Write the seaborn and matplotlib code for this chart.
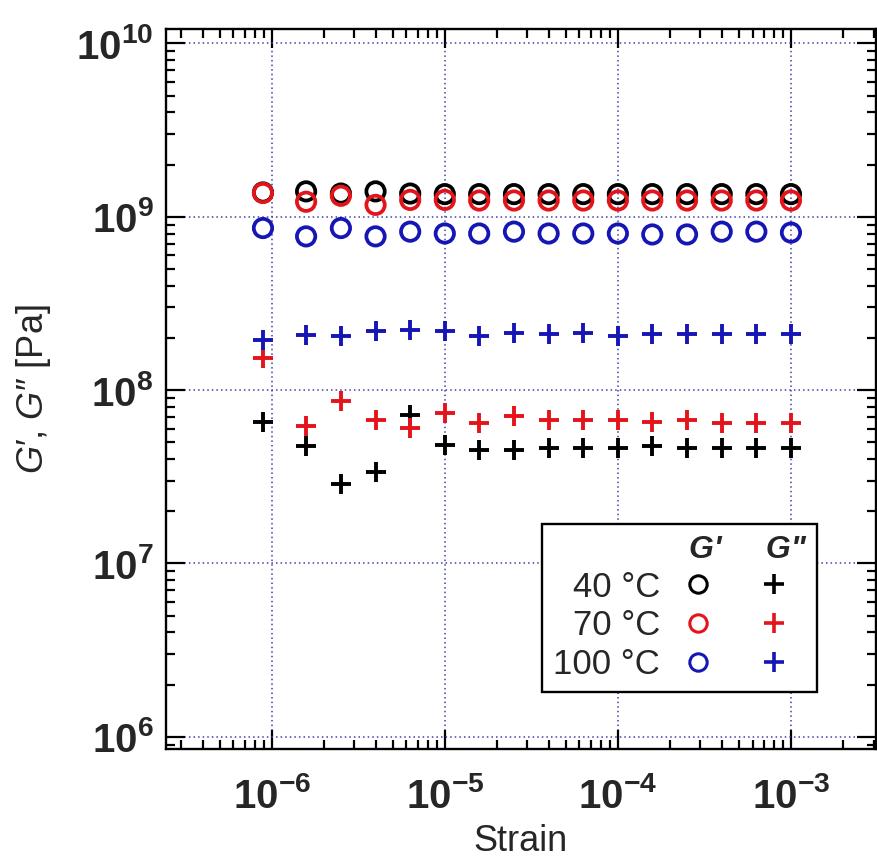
import numpy as np
import pandas as pd
import matplotlib
matplotlib.use("Agg")
import matplotlib.pyplot as plt
import seaborn as sns
from matplotlib.lines import Line2D
from matplotlib.legend_handler import HandlerTuple
from matplotlib.ticker import LogLocator, FuncFormatter, NullFormatter

# ---------------- data ----------------
strain = [8.9e-7, 1.58e-6, 2.51e-6, 3.98e-6, 6.31e-6, 1.0e-5, 1.58e-5, 2.51e-5,
          3.98e-5, 6.31e-5, 1.0e-4, 1.58e-4, 2.51e-4, 3.98e-4, 6.31e-4, 1.0e-3]

gp_40 = [1.38e9, 1.40e9, 1.36e9, 1.40e9, 1.36e9, 1.35e9, 1.35e9, 1.35e9,
         1.35e9, 1.35e9, 1.35e9, 1.35e9, 1.35e9, 1.35e9, 1.35e9, 1.35e9]
gp_70 = [1.37e9, 1.22e9, 1.32e9, 1.17e9, 1.25e9, 1.25e9, 1.24e9, 1.24e9,
         1.24e9, 1.24e9, 1.24e9, 1.24e9, 1.24e9, 1.24e9, 1.24e9, 1.24e9]
gp_100 = [8.6e8, 7.7e8, 8.6e8, 7.7e8, 8.2e8, 8.0e8, 8.0e8, 8.2e8,
          8.0e8, 8.0e8, 8.0e8, 7.9e8, 7.9e8, 8.2e8, 8.2e8, 8.1e8]

gpp_40 = [6.5e7, 4.73e7, 2.88e7, 3.35e7, 7.2e7, 4.84e7, 4.53e7, 4.5e7,
          4.64e7, 4.64e7, 4.64e7, 4.78e7, 4.64e7, 4.64e7, 4.64e7, 4.64e7]
gpp_70 = [1.53e8, 6.17e7, 8.6e7, 6.74e7, 6.04e7, 7.36e7, 6.45e7, 7.05e7,
          6.74e7, 6.74e7, 6.74e7, 6.5e7, 6.7e7, 6.45e7, 6.45e7, 6.45e7]
gpp_100 = [1.95e8, 2.08e8, 2.06e8, 2.18e8, 2.22e8, 2.18e8, 2.04e8, 2.13e8,
           2.11e8, 2.13e8, 2.06e8, 2.11e8, 2.11e8, 2.11e8, 2.11e8, 2.11e8]

temps = ["40 °C", "70 °C", "100 °C"]
colors = ["#000000", "#e3151b", "#1616b4"]

# ---------------- style ----------------
sns.set_theme(style="ticks")
plt.rcParams["font.family"] = ["Liberation Sans", "DejaVu Sans"]
plt.rcParams["mathtext.fontset"] = "custom"
plt.rcParams["mathtext.rm"] = "Liberation Sans"
plt.rcParams["mathtext.it"] = "Liberation Sans:italic"
plt.rcParams["mathtext.bf"] = "Liberation Sans:bold"

fig = plt.figure(figsize=(8.77, 8.61), dpi=100)
ax = fig.add_axes([166 / 877, 112 / 861, 710 / 877, 720 / 861])

rows = []
for t, gp, gpp in zip(temps, [gp_40, gp_70, gp_100], [gpp_40, gpp_70, gpp_100]):
    for s, a, b in zip(strain, gp, gpp):
        rows.append(dict(strain=s, value=a, temp=t, mod="G'"))
        rows.append(dict(strain=s, value=b, temp=t, mod='G"'))
df = pd.DataFrame(rows)

for t, c in zip(temps, colors):
    d = df[(df.temp == t) & (df["mod"] == "G'")]
    sns.scatterplot(data=d, x="strain", y="value", ax=ax, marker="o", s=175,
                    facecolors="none", edgecolor=c, linewidth=2.7, zorder=3,
                    legend=False)
for t, c in zip(temps, colors):
    d = df[(df.temp == t) & (df["mod"] == 'G"')]
    sns.scatterplot(data=d, x="strain", y="value", ax=ax, marker="+", s=220,
                    color=c, linewidth=2.8, zorder=3, legend=False)

ax.set_xscale("log")
ax.set_yscale("log")
ax.set_xlim(2.45e-7, 3.1e-3)
ax.set_ylim(8.5e5, 1.21e10)

ax.xaxis.set_major_locator(LogLocator(base=10, numticks=20))
ax.yaxis.set_major_locator(LogLocator(base=10, numticks=20))
ax.xaxis.set_minor_locator(LogLocator(base=10, subs=np.arange(2, 10), numticks=100))
ax.yaxis.set_minor_locator(LogLocator(base=10, subs=np.arange(2, 10), numticks=100))
fmt = FuncFormatter(lambda v, p: r"$\mathbf{10^{%d}}$" % int(round(np.log10(v))))
ax.xaxis.set_major_formatter(fmt)
ax.yaxis.set_major_formatter(fmt)
ax.xaxis.set_minor_formatter(NullFormatter())
ax.yaxis.set_minor_formatter(NullFormatter())

ax.tick_params(which="both", direction="in", top=True, right=True,
               width=1.6, color="black")
ax.tick_params(which="major", length=13.5, labelsize=29)
ax.tick_params(which="minor", length=6.5)
ax.tick_params(axis="x", which="major", pad=20)
ax.tick_params(axis="y", which="major", pad=9)

for sp in ax.spines.values():
    sp.set_linewidth(1.7)
    sp.set_color("black")

ax.grid(True, which="major", color="#4040a8", linestyle=(0, (1, 2)),
        linewidth=1.1)
ax.set_axisbelow(True)

ax.set_xlabel("Strain", fontsize=26, labelpad=6)
ax.set_ylabel("$G$′, $G$″ [Pa]", fontsize=26, labelpad=17)

# ---------------- legend ----------------
handles = []
for c in colors:
    h1 = Line2D([], [], marker="o", ls="", mfc="none", mec=c, ms=12.5, mew=2.2)
    h2 = Line2D([], [], marker="+", ls="", color=c, ms=15, mew=2.6)
    handles.append((h1, h2))
leg = ax.legend(handles, temps, loc="lower right",
                bbox_to_anchor=(0.917, 0.079), borderaxespad=0,
                markerfirst=False, handler_map={tuple: HandlerTuple(ndivide=None, pad=0.4)},
                handlelength=4.0, handletextpad=0.2, labelspacing=0.16,
                borderpad=0.33, fontsize=25, frameon=True, fancybox=False,
                edgecolor="black", framealpha=1,
                title="G'     G\"", alignment="right",
                title_fontproperties={"size": 23, "weight": "bold", "style": "italic"})
leg.get_frame().set_linewidth(1.7)

fig.savefig("out.png", dpi=100)
